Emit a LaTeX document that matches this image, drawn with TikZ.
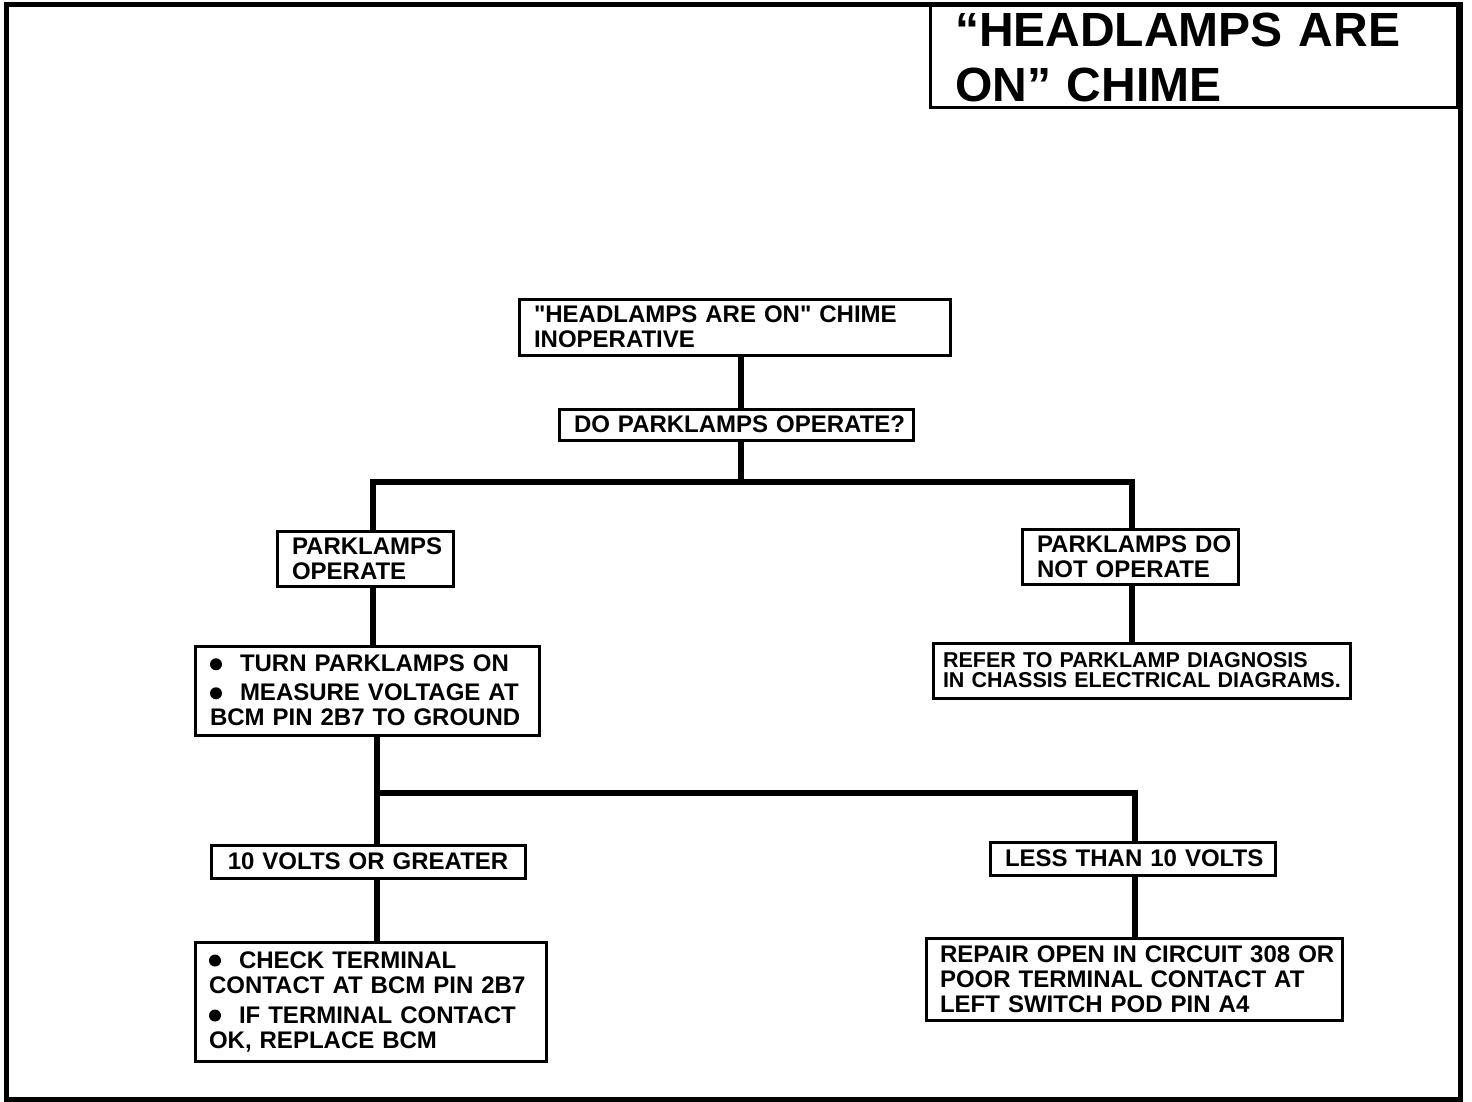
\documentclass[tikz,border=0pt]{standalone}
\usepackage{fontspec}
\setmainfont{Liberation Sans}
\newcommand\bul{\tikz[baseline=0pt]\fill (6pt,7.5pt) circle (6pt);\hspace{18pt}}
\newcommand\lne[1]{\mbox{#1}}
\newcommand\sq{\XeTeXglyph\XeTeXcharglyph"22\relax}
\begin{document}
\begin{tikzpicture}[x=1pt,y=-1pt,
  box/.style={draw, line width=3pt, inner xsep=15pt, inner ysep=0pt, align=left,
    font=\bfseries\fontsize{24}{25}\selectfont},
  conn/.style={line width=6pt, line join=miter, line cap=rect}]
\useasboundingbox (0,0) rectangle (1472,1102);
\draw[line width=5pt] (6,5) rectangle (1460,1099);

\node[draw, line width=3pt, minimum width=527pt, minimum height=102pt, inner xsep=25pt,
  text width=477pt, align=left, font=\bfseries\fontsize{48}{54}\selectfont]
  (title) at (1193.5,57) {\lne{“HEADLAMPS ARE}\\[1pt]\lne{ON” CHIME}};

\node[box, minimum width=431pt, minimum height=56pt, text width=401pt] (b1) at (734.5,327)
  {\lne{\sq HEADLAMPS ARE ON\sq\ CHIME}\\\lne{INOPERATIVE}};
\node[box, minimum width=354pt, minimum height=31pt, text width=324pt] (b2) at (736,424.5)
  {\lne{DO PARKLAMPS OPERATE?}};
\node[box, minimum width=176pt, minimum height=55pt, text width=146pt] (b3) at (365,558.5)
  {\lne{PARKLAMPS}\\\lne{OPERATE}};
\node[box, minimum width=216pt, minimum height=55pt, text width=186pt] (b4) at (1130,556.5)
  {\lne{PARKLAMPS DO}\\\lne{NOT OPERATE}};
\node[box, minimum width=344pt, minimum height=89pt, text width=314pt] (b5) at (367,690.5)
  {\lne{\bul TURN PARKLAMPS ON}\\[4pt]\lne{\bul MEASURE VOLTAGE AT}\\\lne{BCM PIN 2B7 TO GROUND}};
\node[box, minimum width=417pt, minimum height=55pt, text width=397pt, inner xsep=10pt,
  font=\bfseries\fontsize{21.5}{20}\selectfont] (b6) at (1141.5,670.5)
  {\lne{REFER TO PARKLAMP DIAGNOSIS}\\\lne{IN CHASSIS ELECTRICAL DIAGRAMS.}};
\node[box, minimum width=314pt, minimum height=33pt, text width=284pt, align=center] (b7) at (368,861.5)
  {\lne{10 VOLTS OR GREATER}};
\node[box, minimum width=285pt, minimum height=33pt, text width=255pt] (b8) at (1132.5,858.5)
  {\lne{LESS THAN 10 VOLTS}};
\node[box, minimum width=351pt, minimum height=119pt, text width=323pt, inner xsep=14pt] (b9) at (370.5,1001.5)
  {\lne{\bul CHECK TERMINAL}\\\lne{CONTACT AT BCM PIN 2B7}\\[5pt]\lne{\bul IF TERMINAL CONTACT}\\\lne{OK, REPLACE BCM}};
\node[box, minimum width=416pt, minimum height=82pt, text width=388pt, inner xsep=14pt] (b10) at (1134,979)
  {\lne{REPAIR OPEN IN CIRCUIT 308 OR}\\\lne{POOR TERMINAL CONTACT AT}\\\lne{LEFT SWITCH POD PIN A4}};

\coordinate (j1) at (741,482);
\coordinate (tl) at (373,482);
\coordinate (tr) at (1132,482);
\coordinate (ml) at (377,793);
\coordinate (mr) at (1135,793);

\draw[conn] (b1.south -| j1) -- (b2.north -| j1);
\draw[conn] (b2.south -| j1) -- (j1);
\draw[conn] (b3.north -| tl) -- (tl) -- (tr) -- (b4.north -| tr);
\draw[conn] (b3.south -| tl) -- (b5.north -| tl);
\draw[conn] (b4.south -| tr) -- (b6.north -| tr);
\draw[conn] (b5.south -| ml) -- (b7.north -| ml);
\draw[conn] (ml) -- (mr) -- (b8.north -| mr);
\draw[conn] (b7.south -| ml) -- (b9.north -| ml);
\draw[conn] (b8.south -| mr) -- (b10.north -| mr);
\end{tikzpicture}
\end{document}
